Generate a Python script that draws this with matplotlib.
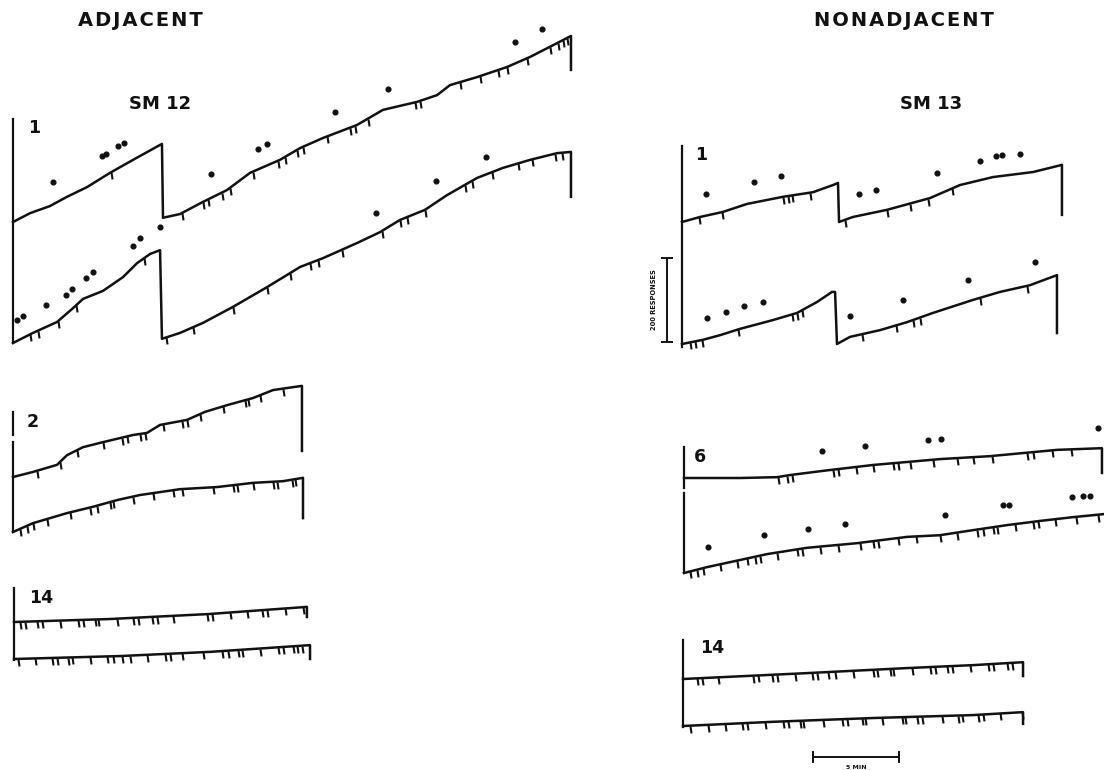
import numpy as np
import matplotlib.pyplot as plt
from matplotlib.path import Path

W, H = 1104, 770
PX_PER_MIN = 17.2     # paper speed: 5 min bar
PX_PER_RESP = 0.42    # pen step: 200 responses bar
INK = '#111111'

# ---- SM 12, session 1 (adjacent) ----
a1_top_t = [0, 0.99, 2.15, 3.14, 4.30, 5.64, 6.98, 8.66, 8.72, 9.71, 11.05, 12.44, 13.78, 15.52,
            16.69, 18.02, 20.0, 21.51, 23.49, 24.65, 25.41, 26.98, 28.72, 30.06, 31.40, 32.44, 32.44]
a1_top_r = [0, 21, 38, 60, 83, 117, 148, 186, 10, 19, 48, 76, 117, 148,
            176, 200, 231, 267, 286, 302, 326, 345, 369, 393, 421, 443, 362]
a1_top_pips = [5.70, 9.83, 11.05, 11.34, 12.15, 12.62, 13.95, 15.41, 15.81, 16.51, 16.86, 18.26, 19.59,
               19.88, 20.64, 23.37, 23.66, 25.99, 27.15, 28.20, 28.72, 29.88, 31.22, 31.69, 31.98, 32.21]
a1_top_dot_t = [2.33, 5.17, 5.41, 6.10, 6.45, 11.51, 14.24, 14.77, 18.72, 21.80, 29.19, 30.76]
a1_top_dot_r = [95, 157, 162, 181, 188, 114, 174, 186, 262, 317, 429, 460]

a1_bot_t = [0, 1.16, 2.56, 3.49, 4.07, 5.23, 6.40, 7.21, 7.97, 8.55, 8.66, 9.71, 11.05, 12.79, 14.77,
            16.69, 18.02, 20.0, 21.34, 22.5, 23.95, 25.23, 26.98, 28.49, 30.06, 31.63, 32.44, 32.44]
a1_bot_r = [0, 24, 50, 83, 105, 124, 157, 190, 212, 221, 10, 24, 48, 86, 133,
            181, 202, 238, 264, 293, 317, 352, 393, 417, 436, 452, 455, 348]
a1_bot_pips = [0.99, 1.45, 2.62, 3.66, 7.62, 8.90, 10.47, 12.79, 14.77, 16.10, 17.27, 17.73, 19.13,
               21.45, 22.50, 22.91, 23.95, 26.28, 26.69, 27.85, 29.36, 30.17, 31.51, 31.92]
a1_bot_dot_t = [0.23, 0.58, 1.92, 3.08, 3.43, 4.24, 4.65, 6.98, 7.38, 8.55, 21.10, 24.59, 27.5]
a1_bot_dot_r = [55, 64, 90, 114, 129, 155, 169, 231, 250, 276, 310, 386, 443]

# ---- SM 12, session 2 ----
a2_top_t = [0, 1.16, 2.56, 3.14, 4.07, 5.23, 6.98, 7.79, 8.55, 10.12, 11.16, 12.44, 13.95, 15.12, 16.80, 16.80]
a2_top_r = [0, 12, 29, 52, 71, 83, 100, 105, 124, 136, 155, 171, 188, 207, 217, 62]
a2_top_pips = [1.40, 2.73, 3.72, 5.23, 6.34, 6.63, 7.38, 7.67, 8.72, 9.83, 10.12, 10.87, 12.21,
               13.49, 13.66, 14.36, 15.70]

a2_bot_t = [0, 1.16, 3.14, 4.65, 6.05, 7.38, 9.71, 11.86, 13.95, 15.70, 16.86, 16.86]
a2_bot_r = [0, 21, 45, 60, 76, 88, 102, 107, 117, 121, 129, 33]
a2_bot_pips = [0.41, 0.81, 1.16, 1.98, 3.31, 4.48, 4.88, 5.64, 5.81, 6.98, 8.14, 9.30, 9.83, 11.63,
               12.79, 13.02, 13.95, 15.12, 15.35, 16.22, 16.40]

# ---- SM 12, session 14 ----
a14_top_t = [0, 5.52, 11.34, 17.03, 17.03]
a14_top_r = [0, 7, 19, 36, 12]
a14_top_pips = [0.35, 0.64, 1.34, 1.63, 2.67, 3.72, 4.01, 4.71, 4.88, 5.99, 6.92, 7.21, 8.02, 8.31,
                9.24, 11.22, 11.51, 12.56, 13.55, 14.42, 14.71, 15.76, 16.80]

a14_bot_t = [0, 6.16, 11.4, 17.21, 17.21]
a14_bot_r = [0, 7, 17, 33, 0]
a14_bot_pips = [0.23, 1.22, 2.21, 2.50, 3.14, 3.37, 4.42, 5.41, 5.76, 6.28, 6.74, 7.73, 8.78, 9.07,
                9.77, 10.99, 12.09, 12.44, 13.02, 13.26, 14.30, 15.35, 15.64, 16.22, 16.45, 16.74]

# ---- SM 13, session 1 (nonadjacent) ----
n1_top_t = [0, 1.05, 2.38, 3.78, 5.87, 7.62, 8.78, 9.07, 9.13, 9.94, 11.92, 14.42, 16.16, 18.08,
            20.41, 22.09, 22.09]
n1_top_r = [0, 12, 24, 43, 60, 71, 88, 93, 0, 12, 29, 57, 88, 107, 119, 136, 17]
n1_top_pips = [0.99, 2.33, 5.87, 6.16, 6.40, 7.44, 9.48, 11.92, 13.26, 14.30, 15.70]
n1_top_dot_t = [1.40, 4.19, 5.76, 10.29, 11.28, 14.83, 17.33, 18.26, 18.6, 19.65]
n1_top_dot_r = [67, 95, 110, 67, 76, 117, 145, 157, 160, 162]

n1_bot_t = [0, 1.22, 2.21, 3.37, 5.29, 6.69, 7.85, 8.72, 8.9, 9.01, 9.77, 11.51, 13.08, 14.59,
            16.92, 18.49, 20.23, 21.80, 21.80]
n1_bot_r = [0, 10, 21, 36, 57, 74, 100, 124, 124, 0, 17, 33, 52, 74, 105, 124, 140, 164, 26]
n1_bot_pips = [0.47, 0.76, 1.16, 3.26, 6.40, 6.69, 6.98, 10.47, 12.44, 13.43, 13.84, 17.33, 20.06]
n1_bot_dot_t = [1.45, 2.56, 3.60, 4.71, 9.77, 12.85, 16.63, 20.52]
n1_bot_dot_r = [62, 76, 90, 100, 67, 105, 152, 195]

# ---- SM 13, session 6 ----
n6_top_t = [0, 3.26, 5.41, 6.16, 8.08, 10.99, 14.88, 17.79, 21.69, 24.30, 24.30]
n6_top_r = [0, 0, 2, 7, 17, 31, 45, 52, 67, 71, 12]
n6_top_pips = [5.47, 5.99, 6.28, 8.66, 8.95, 10.0, 10.99, 12.15, 12.44, 13.14, 14.48, 15.87, 16.80,
               17.91, 19.94, 20.29, 21.40, 22.50]
n6_top_dot_t = [8.02, 10.52, 14.19, 14.94, 24.07]
n6_top_dot_r = [64, 76, 90, 93, 119]

n6_bot_t = [0, 1.34, 3.26, 4.83, 7.15, 10.06, 12.97, 14.88, 16.80, 18.78, 20.70, 22.62, 24.36]
n6_bot_r = [0, 14, 31, 45, 60, 71, 86, 90, 102, 114, 124, 133, 140]
n6_bot_pips = [0.35, 0.76, 1.10, 2.09, 3.08, 3.66, 4.13, 4.42, 5.41, 6.57, 6.86, 7.91, 8.95, 10.23,
               10.99, 11.28, 12.44, 13.49, 14.88, 15.87, 17.03, 17.38, 17.97, 18.20, 19.24, 20.29,
               20.58, 21.57, 22.79, 24.07]
n6_bot_dot_t = [1.40, 4.65, 7.21, 9.36, 15.17, 18.55, 18.90, 22.56, 23.20, 23.60]
n6_bot_dot_r = [62, 90, 105, 117, 138, 162, 162, 181, 183, 183]

# ---- SM 13, session 14 ----
n14_top_t = [0, 7.21, 13.02, 16.86, 19.77, 19.77]
n14_top_r = [0, 14, 26, 33, 40, 7]
n14_top_pips = [0.81, 1.10, 2.03, 4.07, 4.36, 5.17, 5.47, 6.51, 7.50, 7.79, 8.43, 8.84, 9.88, 11.05,
                11.28, 12.03, 12.21, 13.31, 14.36, 14.65, 15.35, 15.64, 16.69, 17.73, 18.02, 18.84, 19.13]

n14_bot_t = [0, 5.23, 11.05, 16.86, 19.77, 19.77]
n14_bot_r = [0, 10, 19, 26, 33, 5]
n14_bot_pips = [0.41, 1.45, 2.44, 3.43, 3.72, 4.77, 5.81, 6.10, 6.80, 6.98, 8.14, 9.24, 9.53, 10.41,
                10.58, 11.57, 12.73, 12.91, 13.60, 13.90, 15.06, 15.99, 16.22, 17.15, 17.44, 18.43, 19.71]

# pip mark hangs below the pen
PIP = Path([(0, 0), (0.15, -1)])

fig = plt.figure(figsize=(W / 100, H / 100), dpi=100)
plt.rcParams['font.family'] = ['DejaVu Sans']


def panel(x0, y0):
    # axes whose origin sits on the start of the lower pen
    w, h = 620, 420
    ax = fig.add_axes([x0 / W, 1 - y0 / H, w / W, h / H])
    ax.set_xlim(0, w / PX_PER_MIN)
    ax.set_ylim(0, h / PX_PER_RESP)
    ax.axis('off')
    return ax


def pen(ax, t, r, pips, base=0, dot_t=None, dot_r=None):
    t = np.asarray(t, float)
    r = np.asarray(r, float) + base
    ax.plot(t, r, color=INK, lw=1.8, solid_joinstyle='round', clip_on=False)
    p = np.asarray(pips, float)
    ax.plot(p, np.interp(p, t, r), ls='none', marker=PIP, ms=10, mew=1.5,
            color=INK, clip_on=False)
    if dot_t is not None:
        ax.plot(dot_t, np.asarray(dot_r) + base, ls='none', marker='o', ms=3.4,
                color=INK, clip_on=False)


def axis_line(ax, spans):
    for lo, hi in spans:
        ax.plot([0, 0], [lo, hi], color=INK, lw=1.6, clip_on=False)


def gap(lower_px, upper_px):
    return (lower_px - upper_px) / PX_PER_RESP


def spaced(s):
    return '\u200a'.join(s)


label_kw = dict(fontsize=12.5, fontweight='bold', color=INK, va='center')

# SM 12 session 1
ax = panel(13, 343)
axis_line(ax, [(0, 533)])
pen(ax, a1_top_t, a1_top_r, a1_top_pips, gap(343, 222), a1_top_dot_t, a1_top_dot_r)
pen(ax, a1_bot_t, a1_bot_r, a1_bot_pips, 0, a1_bot_dot_t, a1_bot_dot_r)
ax.text(0.9, 512, '1', **label_kw)

# SM 12 session 2
ax = panel(13, 532)
axis_line(ax, [(0, 214), (231, 286)])
pen(ax, a2_top_t, a2_top_r, a2_top_pips, gap(532, 477))
pen(ax, a2_bot_t, a2_bot_r, a2_bot_pips)
ax.text(0.8, 262, '2', **label_kw)

# SM 12 session 14
ax = panel(14, 659)
axis_line(ax, [(-2, 169)])
pen(ax, a14_top_t, a14_top_r, a14_top_pips, gap(659, 622))
pen(ax, a14_bot_t, a14_bot_r, a14_bot_pips)
ax.text(0.9, 145, '14', **label_kw)

# SM 13 session 1, with the response scale bar
ax = panel(682, 344)
axis_line(ax, [(-7, 471)])
pen(ax, n1_top_t, n1_top_r, n1_top_pips, gap(344, 222), n1_top_dot_t, n1_top_dot_r)
pen(ax, n1_bot_t, n1_bot_r, n1_bot_pips, 0, n1_bot_dot_t, n1_bot_dot_r)
ax.text(0.75, 450, '1', **label_kw)
ax.errorbar([-0.87], [105], yerr=[100], color=INK, lw=1.4, capsize=4, capthick=1.4, clip_on=False)
ax.text(-1.6, 105, '200 RESPONSES', rotation=90, fontsize=4.8, fontweight='bold',
        color=INK, ha='center', va='center')

# SM 13 session 6
ax = panel(684, 573)
axis_line(ax, [(0, 190), (202, 300)])
pen(ax, n6_top_t, n6_top_r, n6_top_pips, gap(573, 478), n6_top_dot_t, n6_top_dot_r)
pen(ax, n6_bot_t, n6_bot_r, n6_bot_pips, 0, n6_bot_dot_t, n6_bot_dot_r)
ax.text(0.55, 276, '6', **label_kw)

# SM 13 session 14, with the time scale bar
ax = panel(683, 726)
axis_line(ax, [(-2, 205)])
pen(ax, n14_top_t, n14_top_r, n14_top_pips, gap(726, 679))
pen(ax, n14_bot_t, n14_bot_r, n14_bot_pips)
ax.text(1.0, 186, '14', **label_kw)
ax.errorbar([10.06], [-74], xerr=[2.5], color=INK, lw=1.4, capsize=4, capthick=1.4, clip_on=False)
ax.text(10.06, -98, '5 MIN', fontsize=4.5, fontweight='bold', color=INK, ha='center', va='center')

# column headings
head_kw = dict(fontsize=14, fontweight='bold', color=INK, ha='center', va='center')
fig.text(140 / W, 1 - 21 / H, spaced('ADJACENT'), **head_kw)
fig.text(160 / W, 1 - 104 / H, 'SM 12', **dict(head_kw, fontsize=13))
fig.text(904 / W, 1 - 21 / H, spaced('NONADJACENT'), **head_kw)
fig.text(931 / W, 1 - 104 / H, 'SM 13', **dict(head_kw, fontsize=13))

fig.savefig('out.png', dpi=100, facecolor='white')
